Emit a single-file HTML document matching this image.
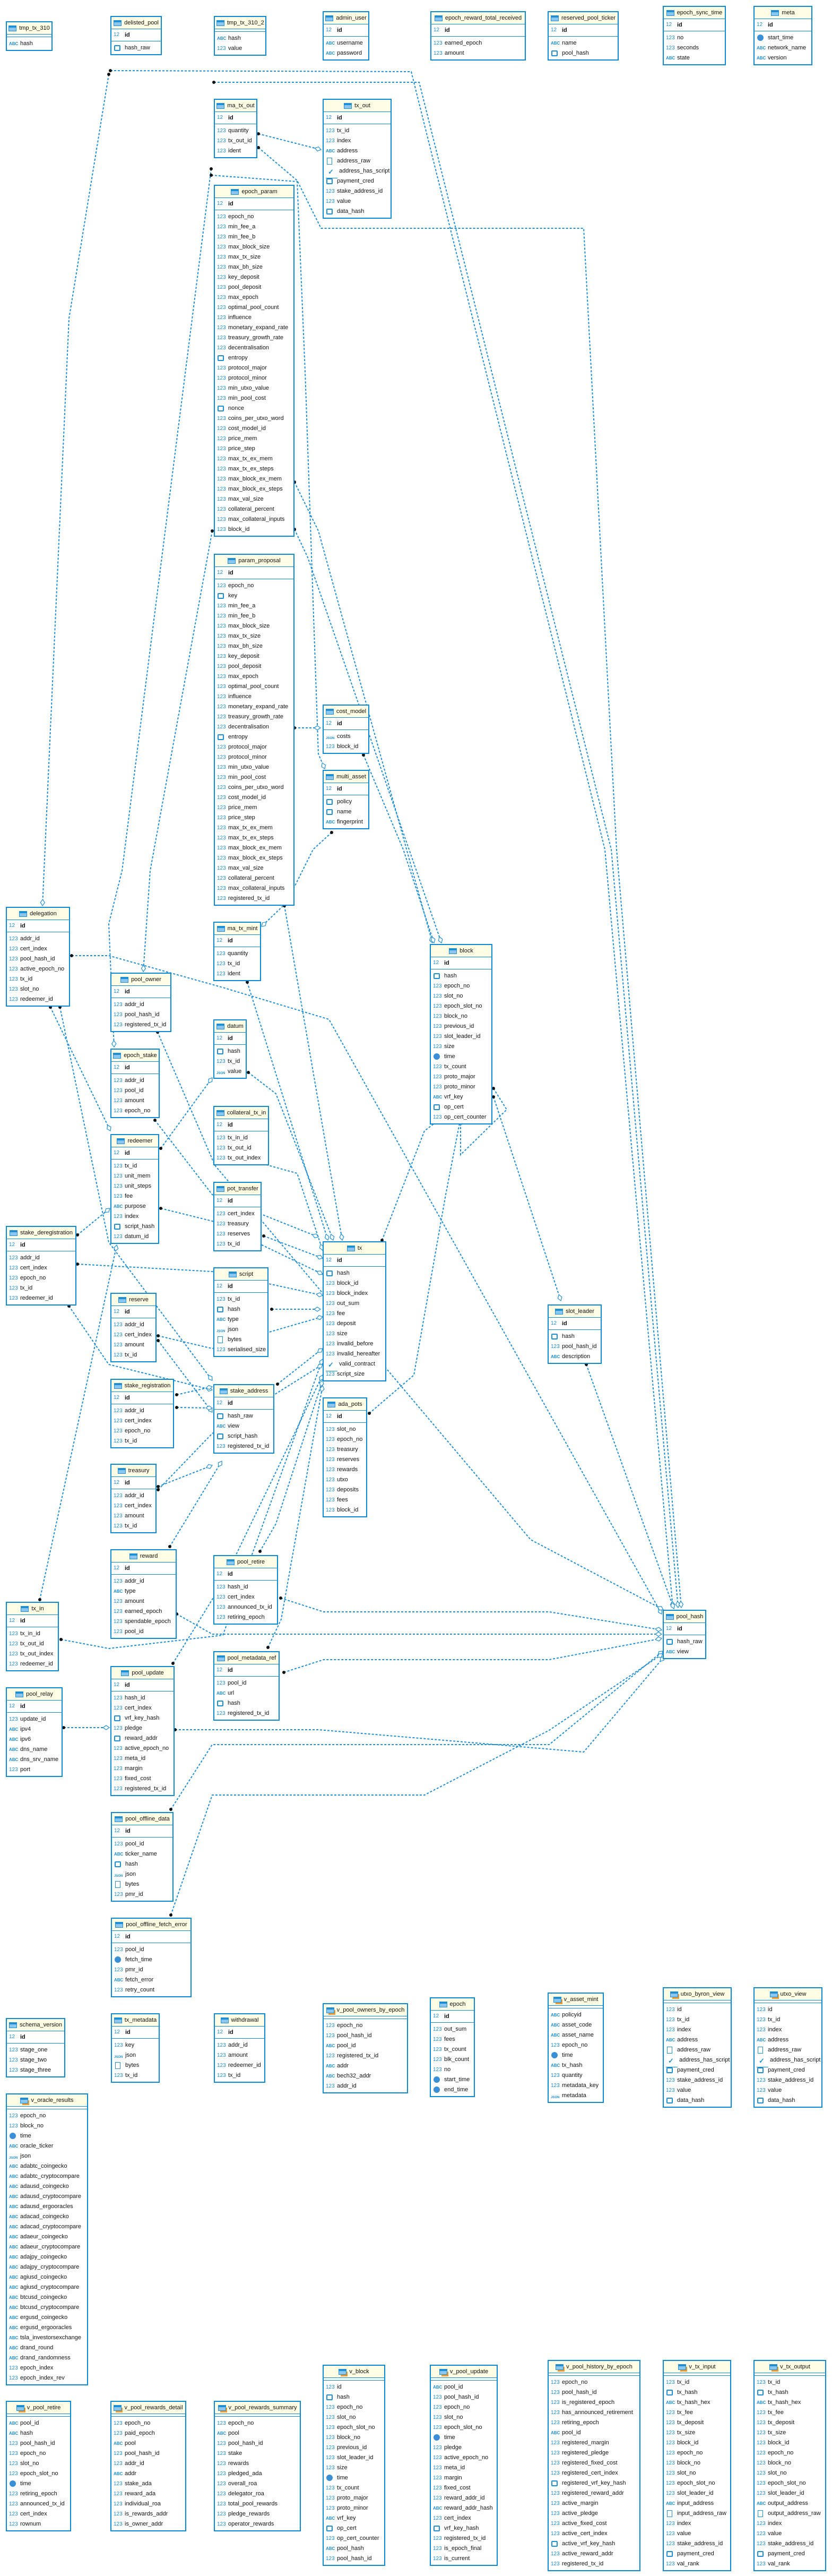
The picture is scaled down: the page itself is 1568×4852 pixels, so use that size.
<!DOCTYPE html>
<html><head><meta charset="utf-8">
<style>
html,body{margin:0;padding:0;background:#fff}
body{width:1568px;height:4852px;position:relative;overflow:hidden;font-family:"Liberation Sans",sans-serif}
svg.c{position:absolute;left:0;top:0}
.t{position:absolute;border:2px solid #0a8ad2;background:#fff;font-size:11px;color:#111;box-sizing:border-box;overflow:hidden}
.h{height:22px;line-height:22px;background:#fffde3;border-bottom:1px solid #0a8ad2;text-align:center;white-space:nowrap;padding:0 3px}
.k{height:22px;line-height:22px;border-bottom:1px solid #0a8ad2;padding-left:4px;white-space:nowrap}
.v{height:4px;border-bottom:1px solid #0a8ad2}
.a{padding:3px 0 2px 4px}
.a p{margin:0;height:19px;line-height:19px;white-space:nowrap}
i{font-style:normal;display:inline-block;width:18px;margin-right:3px;color:#1e8fd5;font-size:10px;vertical-align:top}
i.s{font-weight:bold;font-size:8px}
i.b{width:8px;height:7px;border:2px solid #1e8fd5;border-radius:2px;margin:4px 8px 0 1px}
i.c{width:12px;height:12px;border-radius:50%;background:#3a8fd6;margin:3px 8px 0 1px}
i.x{width:8px;height:11px;border:1px solid #1e8fd5;margin:3px 9px 0 2px}
i.k{font-size:13px;font-weight:bold}
i.j{font-size:6px;font-weight:bold;padding-top:4px}
.ti{width:13px;height:9px;border:1px solid #1e8fd5;background:linear-gradient(#1e8fd5 0 3px,#8cc6ee 3px);margin:6px 5px 0 0;display:inline-block;vertical-align:top}
.vw .ti{border-color:#1e8fd5;box-shadow:3px 4px 0 -1px #f29a2e}
b{font-weight:bold}
</style></head><body>

<svg class="c" width="1568" height="4852">
<defs>
<marker id="d" markerUnits="userSpaceOnUse" markerWidth="8" markerHeight="8" refX="4" refY="4"><circle cx="4" cy="4" r="3" fill="#111"/></marker>
<marker id="m" markerUnits="userSpaceOnUse" markerWidth="14" markerHeight="10" refX="13" refY="5" orient="auto"><path d="M1,5 L7,1 L13,5 L7,9 Z" fill="#fff" stroke="#1e8fd5" stroke-width="1.2"/></marker>
</defs>
<g fill="none" stroke="#1e8fd5" stroke-width="2" stroke-dasharray="4 3" marker-start="url(#d)" marker-end="url(#m)">
<polyline points="208,133 775,135 1140,1600 1268,3028"/>
<polyline points="403,155 790,155 1152,1600 1278,3028"/>
<polyline points="487,278 560,340 605,430 1100,430 1162,1600 1284,3028"/>
<polyline points="205,140 130,600 80,1706"/>
<polyline points="398,318 230,1640 205,1740 215,1972"/>
<polyline points="400,1000 283,1640 270,1830"/>
<polyline points="487,252 605,282"/>
<polyline points="555,997 580,1050 832,1776"/>
<polyline points="555,908 600,1000 815,1776"/>
<polyline points="398,330 560,342 575,700 600,1420 612,1448"/>
<polyline points="555,1371 604,1371"/>
<polyline points="685,1422 760,1600 818,1776"/>
<polyline points="625,1568 590,1600 540,1700 493,1745"/>
<polyline points="536,1706 645,2336"/>
<polyline points="466,1850 618,2336"/>
<polyline points="468,2020 520,2060 628,2336"/>
<polyline points="495,2192 560,2210 608,2355"/>
<polyline points="497,2328 608,2370"/>
<polyline points="512,2466 604,2466"/>
<polyline points="523,2607 608,2540"/>
<polyline points="720,2336 800,2130 832,2106"/>
<polyline points="696,2662 780,2590 840,2250 868,2106"/>
<polyline points="930,2050 955,2090 868,2175 868,2108"/>
<polyline points="930,2066 1057,2450"/>
<polyline points="1105,2570 1270,3030"/>
<polyline points="529,3010 610,3036 1035,3036 1247,3070"/>
<polyline points="333,3040 400,3078 1247,3078"/>
<polyline points="535,3150 610,3126 1035,3126 1247,3086"/>
<polyline points="322,3408 400,3286 1035,3286 1249,3110"/>
<polyline points="322,3607 400,3381 800,3381 1035,3259 1249,3115"/>
<polyline points="330,3258 600,3258 1100,3300 1252,3120"/>
<polyline points="135,1800 205,1800 420,1860 620,1920 1247,3040"/>
<polyline points="95,1897 208,2130"/>
<polyline points="113,1897 205,2340 400,2600"/>
<polyline points="146,2326 207,2276"/>
<polyline points="146,2381 400,2395 608,2440"/>
<polyline points="130,2460 205,2570 400,2618"/>
<polyline points="303,2163 400,2030"/>
<polyline points="303,2276 400,2300 608,2400"/>
<polyline points="75,3013 220,2345"/>
<polyline points="115,3088 205,3105 420,3080 608,2560"/>
<polyline points="120,3254 206,3254"/>
<polyline points="298,2516 400,2540 608,2480"/>
<polyline points="298,2525 400,2660"/>
<polyline points="333,2627 400,2612"/>
<polyline points="333,2651 400,2652"/>
<polyline points="298,2800 400,2760"/>
<polyline points="298,2806 400,2700 608,2570"/>
<polyline points="320,2913 418,2752"/>
<polyline points="326,3133 420,2980 608,2590"/>
<polyline points="490,2922 520,2870 608,2600"/>
<polyline points="505,3103 530,3050 608,2610"/>
<polyline points="297,1944 405,2195 1000,2900 1250,3032"/>
<polyline points="292,2110 400,2250 600,2330"/>
</g>
</svg>

<!-- top row -->
<div class="t" style="left:11px;top:40px;width:88px"><div class="h"><span class="ti"></span>tmp_tx_310</div><div class="v"></div><div class="a"><p><i class="s">ABC</i>hash</p></div></div>
<div class="t" style="left:208px;top:30px;width:97px"><div class="h"><span class="ti"></span>delisted_pool</div><div class="k"><i>12</i><b>id</b></div><div class="a"><p><i class="b"></i>hash_raw</p></div></div>
<div class="t" style="left:403px;top:30px;width:99px"><div class="h"><span class="ti"></span>tmp_tx_310_2</div><div class="v"></div><div class="a"><p><i class="s">ABC</i>hash</p><p><i>123</i>value</p></div></div>
<div class="t" style="left:608px;top:21px;width:88px"><div class="h"><span class="ti"></span>admin_user</div><div class="k"><i>12</i><b>id</b></div><div class="a"><p><i class="s">ABC</i>username</p><p><i class="s">ABC</i>password</p></div></div>
<div class="t" style="left:811px;top:21px;width:180px"><div class="h"><span class="ti"></span>epoch_reward_total_received</div><div class="k"><i>12</i><b>id</b></div><div class="a"><p><i>123</i>earned_epoch</p><p><i>123</i>amount</p></div></div>
<div class="t" style="left:1032px;top:21px;width:134px"><div class="h"><span class="ti"></span>reserved_pool_ticker</div><div class="k"><i>12</i><b>id</b></div><div class="a"><p><i class="s">ABC</i>name</p><p><i class="b"></i>pool_hash</p></div></div>
<div class="t" style="left:1249px;top:11px;width:119px"><div class="h"><span class="ti"></span>epoch_sync_time</div><div class="k"><i>12</i><b>id</b></div><div class="a"><p><i>123</i>no</p><p><i>123</i>seconds</p><p><i class="s">ABC</i>state</p></div></div>
<div class="t" style="left:1420px;top:11px;width:111px"><div class="h"><span class="ti"></span>meta</div><div class="k"><i>12</i><b>id</b></div><div class="a"><p><i class="c"></i>start_time</p><p><i class="s">ABC</i>network_name</p><p><i class="s">ABC</i>version</p></div></div>

<!-- main -->
<div class="t" style="left:403px;top:186px;width:82px"><div class="h"><span class="ti"></span>ma_tx_out</div><div class="k"><i>12</i><b>id</b></div><div class="a"><p><i>123</i>quantity</p><p><i>123</i>tx_out_id</p><p><i>123</i>ident</p></div></div>
<div class="t" style="left:608px;top:186px;width:130px"><div class="h"><span class="ti"></span>tx_out</div><div class="k"><i>12</i><b>id</b></div><div class="a"><p><i>123</i>tx_id</p><p><i>123</i>index</p><p><i class="s">ABC</i>address</p><p><i class="x"></i>address_raw</p><p><i class="k">✓</i>address_has_script</p><p><i class="b"></i>payment_cred</p><p><i>123</i>stake_address_id</p><p><i>123</i>value</p><p><i class="b"></i>data_hash</p></div></div>

<div class="t" style="left:403px;top:348px;width:152px"><div class="h"><span class="ti"></span>epoch_param</div><div class="k"><i>12</i><b>id</b></div><div class="a"><p><i>123</i>epoch_no</p><p><i>123</i>min_fee_a</p><p><i>123</i>min_fee_b</p><p><i>123</i>max_block_size</p><p><i>123</i>max_tx_size</p><p><i>123</i>max_bh_size</p><p><i>123</i>key_deposit</p><p><i>123</i>pool_deposit</p><p><i>123</i>max_epoch</p><p><i>123</i>optimal_pool_count</p><p><i>123</i>influence</p><p><i>123</i>monetary_expand_rate</p><p><i>123</i>treasury_growth_rate</p><p><i>123</i>decentralisation</p><p><i class="b"></i>entropy</p><p><i>123</i>protocol_major</p><p><i>123</i>protocol_minor</p><p><i>123</i>min_utxo_value</p><p><i>123</i>min_pool_cost</p><p><i class="b"></i>nonce</p><p><i>123</i>coins_per_utxo_word</p><p><i>123</i>cost_model_id</p><p><i>123</i>price_mem</p><p><i>123</i>price_step</p><p><i>123</i>max_tx_ex_mem</p><p><i>123</i>max_tx_ex_steps</p><p><i>123</i>max_block_ex_mem</p><p><i>123</i>max_block_ex_steps</p><p><i>123</i>max_val_size</p><p><i>123</i>collateral_percent</p><p><i>123</i>max_collateral_inputs</p><p><i>123</i>block_id</p></div></div>

<div class="t" style="left:403px;top:1043px;width:152px"><div class="h"><span class="ti"></span>param_proposal</div><div class="k"><i>12</i><b>id</b></div><div class="a"><p><i>123</i>epoch_no</p><p><i class="b"></i>key</p><p><i>123</i>min_fee_a</p><p><i>123</i>min_fee_b</p><p><i>123</i>max_block_size</p><p><i>123</i>max_tx_size</p><p><i>123</i>max_bh_size</p><p><i>123</i>key_deposit</p><p><i>123</i>pool_deposit</p><p><i>123</i>max_epoch</p><p><i>123</i>optimal_pool_count</p><p><i>123</i>influence</p><p><i>123</i>monetary_expand_rate</p><p><i>123</i>treasury_growth_rate</p><p><i>123</i>decentralisation</p><p><i class="b"></i>entropy</p><p><i>123</i>protocol_major</p><p><i>123</i>protocol_minor</p><p><i>123</i>min_utxo_value</p><p><i>123</i>min_pool_cost</p><p><i>123</i>coins_per_utxo_word</p><p><i>123</i>cost_model_id</p><p><i>123</i>price_mem</p><p><i>123</i>price_step</p><p><i>123</i>max_tx_ex_mem</p><p><i>123</i>max_tx_ex_steps</p><p><i>123</i>max_block_ex_mem</p><p><i>123</i>max_block_ex_steps</p><p><i>123</i>max_val_size</p><p><i>123</i>collateral_percent</p><p><i>123</i>max_collateral_inputs</p><p><i>123</i>registered_tx_id</p></div></div>

<div class="t" style="left:608px;top:1327px;width:88px"><div class="h"><span class="ti"></span>cost_model</div><div class="k"><i>12</i><b>id</b></div><div class="a"><p><i class="j">JSON</i>costs</p><p><i>123</i>block_id</p></div></div>
<div class="t" style="left:608px;top:1450px;width:88px"><div class="h"><span class="ti"></span>multi_asset</div><div class="k"><i>12</i><b>id</b></div><div class="a"><p><i class="b"></i>policy</p><p><i class="b"></i>name</p><p><i class="s">ABC</i>fingerprint</p></div></div>

<div class="t" style="left:11px;top:1708px;width:121px"><div class="h"><span class="ti"></span>delegation</div><div class="k"><i>12</i><b>id</b></div><div class="a"><p><i>123</i>addr_id</p><p><i>123</i>cert_index</p><p><i>123</i>pool_hash_id</p><p><i>123</i>active_epoch_no</p><p><i>123</i>tx_id</p><p><i>123</i>slot_no</p><p><i>123</i>redeemer_id</p></div></div>
<div class="t" style="left:208px;top:1832px;width:115px"><div class="h"><span class="ti"></span>pool_owner</div><div class="k"><i>12</i><b>id</b></div><div class="a"><p><i>123</i>addr_id</p><p><i>123</i>pool_hash_id</p><p><i>123</i>registered_tx_id</p></div></div>
<div class="t" style="left:208px;top:1975px;width:93px"><div class="h"><span class="ti"></span>epoch_stake</div><div class="k"><i>12</i><b>id</b></div><div class="a"><p><i>123</i>addr_id</p><p><i>123</i>pool_id</p><p><i>123</i>amount</p><p><i>123</i>epoch_no</p></div></div>
<div class="t" style="left:208px;top:2136px;width:92px"><div class="h"><span class="ti"></span>redeemer</div><div class="k"><i>12</i><b>id</b></div><div class="a"><p><i>123</i>tx_id</p><p><i>123</i>unit_mem</p><p><i>123</i>unit_steps</p><p><i>123</i>fee</p><p><i class="s">ABC</i>purpose</p><p><i>123</i>index</p><p><i class="b"></i>script_hash</p><p><i>123</i>datum_id</p></div></div>
<div class="t" style="left:11px;top:2309px;width:133px"><div class="h"><span class="ti"></span>stake_deregistration</div><div class="k"><i>12</i><b>id</b></div><div class="a"><p><i>123</i>addr_id</p><p><i>123</i>cert_index</p><p><i>123</i>epoch_no</p><p><i>123</i>tx_id</p><p><i>123</i>redeemer_id</p></div></div>
<div class="t" style="left:208px;top:2435px;width:87px"><div class="h"><span class="ti"></span>reserve</div><div class="k"><i>12</i><b>id</b></div><div class="a"><p><i>123</i>addr_id</p><p><i>123</i>cert_index</p><p><i>123</i>amount</p><p><i>123</i>tx_id</p></div></div>
<div class="t" style="left:208px;top:2597px;width:120px"><div class="h"><span class="ti"></span>stake_registration</div><div class="k"><i>12</i><b>id</b></div><div class="a"><p><i>123</i>addr_id</p><p><i>123</i>cert_index</p><p><i>123</i>epoch_no</p><p><i>123</i>tx_id</p></div></div>
<div class="t" style="left:208px;top:2757px;width:87px"><div class="h"><span class="ti"></span>treasury</div><div class="k"><i>12</i><b>id</b></div><div class="a"><p><i>123</i>addr_id</p><p><i>123</i>cert_index</p><p><i>123</i>amount</p><p><i>123</i>tx_id</p></div></div>
<div class="t" style="left:208px;top:2918px;width:125px"><div class="h"><span class="ti"></span>reward</div><div class="k"><i>12</i><b>id</b></div><div class="a"><p><i>123</i>addr_id</p><p><i class="s">ABC</i>type</p><p><i>123</i>amount</p><p><i>123</i>earned_epoch</p><p><i>123</i>spendable_epoch</p><p><i>123</i>pool_id</p></div></div>
<div class="t" style="left:11px;top:3017px;width:100px"><div class="h"><span class="ti"></span>tx_in</div><div class="k"><i>12</i><b>id</b></div><div class="a"><p><i>123</i>tx_in_id</p><p><i>123</i>tx_out_id</p><p><i>123</i>tx_out_index</p><p><i>123</i>redeemer_id</p></div></div>
<div class="t" style="left:11px;top:3178px;width:107px"><div class="h"><span class="ti"></span>pool_relay</div><div class="k"><i>12</i><b>id</b></div><div class="a"><p><i>123</i>update_id</p><p><i class="s">ABC</i>ipv4</p><p><i class="s">ABC</i>ipv6</p><p><i class="s">ABC</i>dns_name</p><p><i class="s">ABC</i>dns_srv_name</p><p><i>123</i>port</p></div></div>
<div class="t" style="left:208px;top:3138px;width:121px"><div class="h"><span class="ti"></span>pool_update</div><div class="k"><i>12</i><b>id</b></div><div class="a"><p><i>123</i>hash_id</p><p><i>123</i>cert_index</p><p><i class="b"></i>vrf_key_hash</p><p><i>123</i>pledge</p><p><i class="b"></i>reward_addr</p><p><i>123</i>active_epoch_no</p><p><i>123</i>meta_id</p><p><i>123</i>margin</p><p><i>123</i>fixed_cost</p><p><i>123</i>registered_tx_id</p></div></div>

<div class="t" style="left:402px;top:1736px;width:90px"><div class="h"><span class="ti"></span>ma_tx_mint</div><div class="k"><i>12</i><b>id</b></div><div class="a"><p><i>123</i>quantity</p><p><i>123</i>tx_id</p><p><i>123</i>ident</p></div></div>
<div class="t" style="left:402px;top:1920px;width:63px"><div class="h"><span class="ti"></span>datum</div><div class="k"><i>12</i><b>id</b></div><div class="a"><p><i class="b"></i>hash</p><p><i>123</i>tx_id</p><p><i class="j">JSON</i>value</p></div></div>
<div class="t" style="left:402px;top:2083px;width:105px"><div class="h"><span class="ti"></span>collateral_tx_in</div><div class="k"><i>12</i><b>id</b></div><div class="a"><p><i>123</i>tx_in_id</p><p><i>123</i>tx_out_id</p><p><i>123</i>tx_out_index</p></div></div>
<div class="t" style="left:402px;top:2226px;width:91px"><div class="h"><span class="ti"></span>pot_transfer</div><div class="k"><i>12</i><b>id</b></div><div class="a"><p><i>123</i>cert_index</p><p><i>123</i>treasury</p><p><i>123</i>reserves</p><p><i>123</i>tx_id</p></div></div>
<div class="t" style="left:402px;top:2387px;width:104px"><div class="h"><span class="ti"></span>script</div><div class="k"><i>12</i><b>id</b></div><div class="a"><p><i>123</i>tx_id</p><p><i class="b"></i>hash</p><p><i class="s">ABC</i>type</p><p><i class="j">JSON</i>json</p><p><i class="x"></i>bytes</p><p><i>123</i>serialised_size</p></div></div>
<div class="t" style="left:402px;top:2607px;width:115px"><div class="h"><span class="ti"></span>stake_address</div><div class="k"><i>12</i><b>id</b></div><div class="a"><p><i class="b"></i>hash_raw</p><p><i class="s">ABC</i>view</p><p><i class="b"></i>script_hash</p><p><i>123</i>registered_tx_id</p></div></div>
<div class="t" style="left:608px;top:2338px;width:120px"><div class="h"><span class="ti"></span>tx</div><div class="k"><i>12</i><b>id</b></div><div class="a"><p><i class="b"></i>hash</p><p><i>123</i>block_id</p><p><i>123</i>block_index</p><p><i>123</i>out_sum</p><p><i>123</i>fee</p><p><i>123</i>deposit</p><p><i>123</i>size</p><p><i>123</i>invalid_before</p><p><i>123</i>invalid_hereafter</p><p><i class="k">✓</i>valid_contract</p><p><i>123</i>script_size</p></div></div>
<div class="t" style="left:608px;top:2632px;width:84px"><div class="h"><span class="ti"></span>ada_pots</div><div class="k"><i>12</i><b>id</b></div><div class="a"><p><i>123</i>slot_no</p><p><i>123</i>epoch_no</p><p><i>123</i>treasury</p><p><i>123</i>reserves</p><p><i>123</i>rewards</p><p><i>123</i>utxo</p><p><i>123</i>deposits</p><p><i>123</i>fees</p><p><i>123</i>block_id</p></div></div>
<div class="t" style="left:402px;top:2929px;width:122px"><div class="h"><span class="ti"></span>pool_retire</div><div class="k"><i>12</i><b>id</b></div><div class="a"><p><i>123</i>hash_id</p><p><i>123</i>cert_index</p><p><i>123</i>announced_tx_id</p><p><i>123</i>retiring_epoch</p></div></div>
<div class="t" style="left:402px;top:3110px;width:125px"><div class="h"><span class="ti"></span>pool_metadata_ref</div><div class="k"><i>12</i><b>id</b></div><div class="a"><p><i>123</i>pool_id</p><p><i class="s">ABC</i>url</p><p><i class="b"></i>hash</p><p><i>123</i>registered_tx_id</p></div></div>

<div class="t" style="left:810px;top:1778px;width:118px"><div class="h"><span class="ti"></span>block</div><div class="k"><i>12</i><b>id</b></div><div class="a"><p><i class="b"></i>hash</p><p><i>123</i>epoch_no</p><p><i>123</i>slot_no</p><p><i>123</i>epoch_slot_no</p><p><i>123</i>block_no</p><p><i>123</i>previous_id</p><p><i>123</i>slot_leader_id</p><p><i>123</i>size</p><p><i class="c"></i>time</p><p><i>123</i>tx_count</p><p><i>123</i>proto_major</p><p><i>123</i>proto_minor</p><p><i class="s">ABC</i>vrf_key</p><p><i class="b"></i>op_cert</p><p><i>123</i>op_cert_counter</p></div></div>
<div class="t" style="left:1032px;top:2457px;width:102px"><div class="h"><span class="ti"></span>slot_leader</div><div class="k"><i>12</i><b>id</b></div><div class="a"><p><i class="b"></i>hash</p><p><i>123</i>pool_hash_id</p><p><i class="s">ABC</i>description</p></div></div>
<div class="t" style="left:1249px;top:3032px;width:82px"><div class="h"><span class="ti"></span>pool_hash</div><div class="k"><i>12</i><b>id</b></div><div class="a"><p><i class="b"></i>hash_raw</p><p><i class="s">ABC</i>view</p></div></div>

<div class="t" style="left:209px;top:3413px;width:118px"><div class="h"><span class="ti"></span>pool_offline_data</div><div class="k"><i>12</i><b>id</b></div><div class="a"><p><i>123</i>pool_id</p><p><i class="s">ABC</i>ticker_name</p><p><i class="b"></i>hash</p><p><i class="j">JSON</i>json</p><p><i class="x"></i>bytes</p><p><i>123</i>pmr_id</p></div></div>
<div class="t" style="left:209px;top:3612px;width:152px"><div class="h"><span class="ti"></span>pool_offline_fetch_error</div><div class="k"><i>12</i><b>id</b></div><div class="a"><p><i>123</i>pool_id</p><p><i class="c"></i>fetch_time</p><p><i>123</i>pmr_id</p><p><i class="s">ABC</i>fetch_error</p><p><i>123</i>retry_count</p></div></div>

<!-- lower -->
<div class="t" style="left:11px;top:3801px;width:112px"><div class="h"><span class="ti"></span>schema_version</div><div class="k"><i>12</i><b>id</b></div><div class="a"><p><i>123</i>stage_one</p><p><i>123</i>stage_two</p><p><i>123</i>stage_three</p></div></div>
<div class="t" style="left:209px;top:3792px;width:92px"><div class="h"><span class="ti"></span>tx_metadata</div><div class="k"><i>12</i><b>id</b></div><div class="a"><p><i>123</i>key</p><p><i class="j">JSON</i>json</p><p><i class="x"></i>bytes</p><p><i>123</i>tx_id</p></div></div>
<div class="t" style="left:403px;top:3792px;width:97px"><div class="h"><span class="ti"></span>withdrawal</div><div class="k"><i>12</i><b>id</b></div><div class="a"><p><i>123</i>addr_id</p><p><i>123</i>amount</p><p><i>123</i>redeemer_id</p><p><i>123</i>tx_id</p></div></div>
<div class="t vw" style="left:608px;top:3773px;width:161px"><div class="h"><span class="ti"></span>v_pool_owners_by_epoch</div><div class="v"></div><div class="a"><p><i>123</i>epoch_no</p><p><i>123</i>pool_hash_id</p><p><i class="s">ABC</i>pool_id</p><p><i>123</i>registered_tx_id</p><p><i class="s">ABC</i>addr</p><p><i class="s">ABC</i>bech32_addr</p><p><i>123</i>addr_id</p></div></div>
<div class="t" style="left:810px;top:3762px;width:85px"><div class="h"><span class="ti"></span>epoch</div><div class="k"><i>12</i><b>id</b></div><div class="a"><p><i>123</i>out_sum</p><p><i>123</i>fees</p><p><i>123</i>tx_count</p><p><i>123</i>blk_count</p><p><i>123</i>no</p><p><i class="c"></i>start_time</p><p><i class="c"></i>end_time</p></div></div>
<div class="t vw" style="left:1032px;top:3753px;width:106px"><div class="h"><span class="ti"></span>v_asset_mint</div><div class="v"></div><div class="a"><p><i class="s">ABC</i>policyid</p><p><i class="s">ABC</i>asset_code</p><p><i class="s">ABC</i>asset_name</p><p><i>123</i>epoch_no</p><p><i class="c"></i>time</p><p><i class="s">ABC</i>tx_hash</p><p><i>123</i>quantity</p><p><i>123</i>metadata_key</p><p><i class="j">JSON</i>metadata</p></div></div>
<div class="t vw" style="left:1249px;top:3743px;width:130px"><div class="h"><span class="ti"></span>utxo_byron_view</div><div class="v"></div><div class="a"><p><i>123</i>id</p><p><i>123</i>tx_id</p><p><i>123</i>index</p><p><i class="s">ABC</i>address</p><p><i class="x"></i>address_raw</p><p><i class="k">✓</i>address_has_script</p><p><i class="b"></i>payment_cred</p><p><i>123</i>stake_address_id</p><p><i>123</i>value</p><p><i class="b"></i>data_hash</p></div></div>
<div class="t vw" style="left:1420px;top:3743px;width:130px"><div class="h"><span class="ti"></span>utxo_view</div><div class="v"></div><div class="a"><p><i>123</i>id</p><p><i>123</i>tx_id</p><p><i>123</i>index</p><p><i class="s">ABC</i>address</p><p><i class="x"></i>address_raw</p><p><i class="k">✓</i>address_has_script</p><p><i class="b"></i>payment_cred</p><p><i>123</i>stake_address_id</p><p><i>123</i>value</p><p><i class="b"></i>data_hash</p></div></div>

<div class="t vw" style="left:11px;top:3943px;width:155px"><div class="h"><span class="ti"></span>v_oracle_results</div><div class="v"></div><div class="a"><p><i>123</i>epoch_no</p><p><i>123</i>block_no</p><p><i class="c"></i>time</p><p><i class="s">ABC</i>oracle_ticker</p><p><i class="j">JSON</i>json</p><p><i class="s">ABC</i>adabtc_coingecko</p><p><i class="s">ABC</i>adabtc_cryptocompare</p><p><i class="s">ABC</i>adausd_coingecko</p><p><i class="s">ABC</i>adausd_cryptocompare</p><p><i class="s">ABC</i>adausd_ergooracles</p><p><i class="s">ABC</i>adacad_coingecko</p><p><i class="s">ABC</i>adacad_cryptocompare</p><p><i class="s">ABC</i>adaeur_coingecko</p><p><i class="s">ABC</i>adaeur_cryptocompare</p><p><i class="s">ABC</i>adajpy_coingecko</p><p><i class="s">ABC</i>adajpy_cryptocompare</p><p><i class="s">ABC</i>agiusd_coingecko</p><p><i class="s">ABC</i>agiusd_cryptocompare</p><p><i class="s">ABC</i>btcusd_coingecko</p><p><i class="s">ABC</i>btcusd_cryptocompare</p><p><i class="s">ABC</i>ergusd_coingecko</p><p><i class="s">ABC</i>ergusd_ergooracles</p><p><i class="s">ABC</i>tsla_investorsexchange</p><p><i class="s">ABC</i>drand_round</p><p><i class="s">ABC</i>drand_randomness</p><p><i>123</i>epoch_index</p><p><i>123</i>epoch_index_rev</p></div></div>

<div class="t vw" style="left:11px;top:4522px;width:123px"><div class="h"><span class="ti"></span>v_pool_retire</div><div class="v"></div><div class="a"><p><i class="s">ABC</i>pool_id</p><p><i class="s">ABC</i>hash</p><p><i>123</i>pool_hash_id</p><p><i>123</i>epoch_no</p><p><i>123</i>slot_no</p><p><i>123</i>epoch_slot_no</p><p><i class="c"></i>time</p><p><i>123</i>retiring_epoch</p><p><i>123</i>announced_tx_id</p><p><i>123</i>cert_index</p><p><i>123</i>rownum</p></div></div>
<div class="t vw" style="left:208px;top:4522px;width:143px"><div class="h"><span class="ti"></span>v_pool_rewards_detail</div><div class="v"></div><div class="a"><p><i>123</i>epoch_no</p><p><i>123</i>paid_epoch</p><p><i class="s">ABC</i>pool</p><p><i>123</i>pool_hash_id</p><p><i>123</i>addr_id</p><p><i class="s">ABC</i>addr</p><p><i>123</i>stake_ada</p><p><i>123</i>reward_ada</p><p><i>123</i>individual_roa</p><p><i>123</i>is_rewards_addr</p><p><i>123</i>is_owner_addr</p></div></div>
<div class="t vw" style="left:403px;top:4522px;width:164px"><div class="h"><span class="ti"></span>v_pool_rewards_summary</div><div class="v"></div><div class="a"><p><i>123</i>epoch_no</p><p><i class="s">ABC</i>pool</p><p><i>123</i>pool_hash_id</p><p><i>123</i>stake</p><p><i>123</i>rewards</p><p><i>123</i>pledged_ada</p><p><i>123</i>overall_roa</p><p><i>123</i>delegator_roa</p><p><i>123</i>total_pool_rewards</p><p><i>123</i>pledge_rewards</p><p><i>123</i>operator_rewards</p></div></div>
<div class="t vw" style="left:608px;top:4454px;width:118px"><div class="h"><span class="ti"></span>v_block</div><div class="v"></div><div class="a"><p><i>123</i>id</p><p><i class="b"></i>hash</p><p><i>123</i>epoch_no</p><p><i>123</i>slot_no</p><p><i>123</i>epoch_slot_no</p><p><i>123</i>block_no</p><p><i>123</i>previous_id</p><p><i>123</i>slot_leader_id</p><p><i>123</i>size</p><p><i class="c"></i>time</p><p><i>123</i>tx_count</p><p><i>123</i>proto_major</p><p><i>123</i>proto_minor</p><p><i class="s">ABC</i>vrf_key</p><p><i class="b"></i>op_cert</p><p><i>123</i>op_cert_counter</p><p><i class="s">ABC</i>pool_hash</p><p><i>123</i>pool_hash_id</p></div></div>
<div class="t vw" style="left:810px;top:4454px;width:128px"><div class="h"><span class="ti"></span>v_pool_update</div><div class="v"></div><div class="a"><p><i class="s">ABC</i>pool_id</p><p><i>123</i>pool_hash_id</p><p><i>123</i>epoch_no</p><p><i>123</i>slot_no</p><p><i>123</i>epoch_slot_no</p><p><i class="c"></i>time</p><p><i>123</i>pledge</p><p><i>123</i>active_epoch_no</p><p><i>123</i>meta_id</p><p><i>123</i>margin</p><p><i>123</i>fixed_cost</p><p><i>123</i>reward_addr_id</p><p><i class="s">ABC</i>reward_addr_hash</p><p><i>123</i>cert_index</p><p><i class="b"></i>vrf_key_hash</p><p><i>123</i>registered_tx_id</p><p><i>123</i>is_epoch_final</p><p><i>123</i>is_current</p></div></div>
<div class="t vw" style="left:1032px;top:4445px;width:175px"><div class="h"><span class="ti"></span>v_pool_history_by_epoch</div><div class="v"></div><div class="a"><p><i>123</i>epoch_no</p><p><i>123</i>pool_hash_id</p><p><i>123</i>is_registered_epoch</p><p><i>123</i>has_announced_retirement</p><p><i>123</i>retiring_epoch</p><p><i class="s">ABC</i>pool_id</p><p><i>123</i>registered_margin</p><p><i>123</i>registered_pledge</p><p><i>123</i>registered_fixed_cost</p><p><i>123</i>registered_cert_index</p><p><i class="b"></i>registered_vrf_key_hash</p><p><i>123</i>registered_reward_addr</p><p><i>123</i>active_margin</p><p><i>123</i>active_pledge</p><p><i>123</i>active_fixed_cost</p><p><i>123</i>active_cert_index</p><p><i class="b"></i>active_vrf_key_hash</p><p><i>123</i>active_reward_addr</p><p><i>123</i>registered_tx_id</p></div></div>
<div class="t vw" style="left:1249px;top:4445px;width:129px"><div class="h"><span class="ti"></span>v_tx_input</div><div class="v"></div><div class="a"><p><i>123</i>tx_id</p><p><i class="b"></i>tx_hash</p><p><i class="s">ABC</i>tx_hash_hex</p><p><i>123</i>tx_fee</p><p><i>123</i>tx_deposit</p><p><i>123</i>tx_size</p><p><i>123</i>block_id</p><p><i>123</i>epoch_no</p><p><i>123</i>block_no</p><p><i>123</i>slot_no</p><p><i>123</i>epoch_slot_no</p><p><i>123</i>slot_leader_id</p><p><i class="s">ABC</i>input_address</p><p><i class="x"></i>input_address_raw</p><p><i>123</i>index</p><p><i>123</i>value</p><p><i>123</i>stake_address_id</p><p><i class="b"></i>payment_cred</p><p><i>123</i>val_rank</p></div></div>
<div class="t vw" style="left:1420px;top:4445px;width:137px"><div class="h"><span class="ti"></span>v_tx_output</div><div class="v"></div><div class="a"><p><i>123</i>tx_id</p><p><i class="b"></i>tx_hash</p><p><i class="s">ABC</i>tx_hash_hex</p><p><i>123</i>tx_fee</p><p><i>123</i>tx_deposit</p><p><i>123</i>tx_size</p><p><i>123</i>block_id</p><p><i>123</i>epoch_no</p><p><i>123</i>block_no</p><p><i>123</i>slot_no</p><p><i>123</i>epoch_slot_no</p><p><i>123</i>slot_leader_id</p><p><i class="s">ABC</i>output_address</p><p><i class="x"></i>output_address_raw</p><p><i>123</i>index</p><p><i>123</i>value</p><p><i>123</i>stake_address_id</p><p><i class="b"></i>payment_cred</p><p><i>123</i>val_rank</p></div></div>

</body></html>
